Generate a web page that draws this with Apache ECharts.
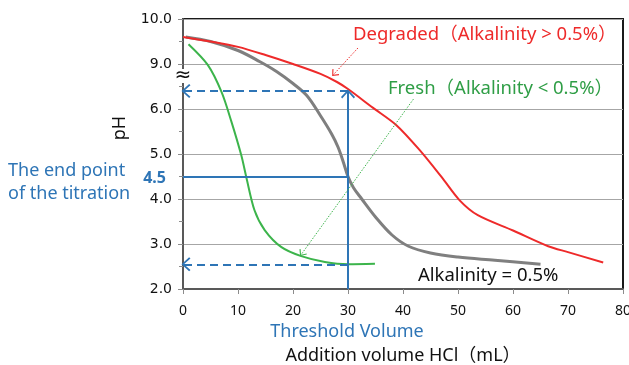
<!DOCTYPE html>
<html>
<head>
<meta charset="utf-8">
<script src="https://cdn.jsdelivr.net/npm/echarts@6/dist/echarts.min.js"></script>
<style>html,body{margin:0;padding:0;background:#fff;}#c{width:629px;height:365px;}</style>
</head>
<body>
<div id="c"></div>
<script>
// ---- data (x = HCl volume mL, y = pH) ----
const degradedX = [0, 5, 10, 15, 20, 25, 28, 30, 34.5, 38.8, 43, 47, 50.3, 53.6, 60, 66.4, 70, 76.4];
const degradedPH = [9.6, 9.5, 9.38, 9.2, 9.0, 8.34, 7.8, 7.33, 6.09, 5.64, 5.09, 4.49, 3.97, 3.64, 3.3, 2.95, 2.82, 2.59];
const neutralX = [0.5, 5, 10, 14, 17, 20, 22.5, 25, 27, 28.2, 29.2, 30, 31, 32.5, 35, 38, 41, 45, 50, 56.7, 65];
const neutralPH = [9.6, 9.5, 9.3, 9.05, 8.5, 7.7, 6.9, 5.85, 5.45, 5.15, 4.8, 4.5, 4.25, 4.0, 3.6, 3.2, 2.95, 2.8, 2.71, 2.64, 2.55];
const freshX = [1, 4.5, 7, 8.8, 10.6, 11.5, 13, 14.85, 17.9, 21.5, 25.8, 30, 34.9];
const freshPH = [9.44, 8.94, 7.14, 5.72, 4.97, 4.49, 3.75, 3.31, 2.93, 2.73, 2.6, 2.55, 2.56];
const yTickLabels = ['2.0', '3.0', '4.0', '5.0', '6.0', '9.0', '10.0'];
const xTicks = [0, 10, 20, 30, 40, 50, 60, 70, 80];
const thresholdVolume = 30;
const thresholdPH = 7.2;
const endPointPH = 4.5;
const freshEndPH = 2.55;
const degradedArrow = [[31.8, 9.355], [27.25, 8.25]];
const freshArrow = [[41.9, 6.66], [21.4, 2.75]];

// broken axis: 2..6 linear, 6..9 compressed into one unit, 9..10 linear
function pos(ph) {
  if (ph <= 6) return ph;
  if (ph <= 9) return 6 + (ph - 6) / 3;
  return 7 + (ph - 9);
}
function pts(xs, ys) { return xs.map((x, i) => [x, pos(ys[i])]); }

const RED = '#ee2a2a', GRAY = '#7f7f7f', GREEN = '#3cb44b', BLUE = '#2e75b6', TGREEN = '#2f9e46';
const FONT = '"Noto Sans", "Noto Sans CJK JP", sans-serif';
const chevron = 'path://M0,0 L12,11 L10,13 L0,3.5 L-10,13 L-12,11 Z';

const chart = echarts.init(document.getElementById('c'), null, {renderer: 'canvas'});
const option = {
  animation: false,
  backgroundColor: '#fff',
  grid: {left: 183, right: 6, top: 19, bottom: 76, containLabel: false, outerBoundsMode: 'none',
    show: true, borderColor: '#1a1a1a', borderWidth: 2, backgroundColor: 'transparent'},
  xAxis: {
    type: 'value', min: 0, max: 80, interval: 10,
    name: 'Addition volume HCl（mL）', nameLocation: 'middle', nameGap: 58,
    nameTextStyle: {color: '#111', fontSize: 18, fontFamily: FONT},
    axisLine: {show: true, lineStyle: {color: '#595959', width: 2}},
    axisTick: {show: true, length: 5, lineStyle: {color: '#8c8c8c'}},
    axisLabel: {margin: 15, fontSize: 14, fontFamily: FONT,
      color: v => (v === thresholdVolume ? BLUE : '#111'),
      formatter: v => (xTicks.indexOf(v) >= 0 ? String(v) : '')},
    splitLine: {show: false}
  },
  yAxis: {
    type: 'value', min: 2, max: 8, interval: 1,
    axisLine: {show: true, lineStyle: {color: '#595959', width: 2}},
    axisTick: {show: true, length: 5, lineStyle: {color: '#8c8c8c'}},
    minorTick: {show: true, splitNumber: 2, length: 4, lineStyle: {color: '#8c8c8c'}},
    axisLabel: {margin: 11, fontSize: 14, fontFamily: '"DejaVu Sans", sans-serif', color: '#111',
      formatter: v => yTickLabels[Math.round(v) - 2] || ''},
    splitLine: {show: true, lineStyle: {color: '#a6a6a6', width: 1}}
  },
  series: [
    {type: 'line', data: pts(degradedX, degradedPH), smooth: 0.3, showSymbol: false, lineStyle: {color: RED, width: 2}, z: 4},
    {type: 'line', data: pts(neutralX, neutralPH), smooth: 0.35, showSymbol: false, lineStyle: {color: GRAY, width: 3}, z: 3},
    {type: 'line', data: pts(freshX, freshPH), smooth: 0.3, showSymbol: false, lineStyle: {color: GREEN, width: 2}, z: 3},
    {type: 'line', data: [], z: 5,
      markLine: {
        silent: true, animation: false, label: {show: false},
        data: [
          [{coord: [0, pos(endPointPH)], symbol: 'none', lineStyle: {color: BLUE, width: 2, type: 'solid'}},
           {coord: [thresholdVolume, pos(endPointPH)], symbol: 'none'}],
          [{coord: [thresholdVolume, 2], symbol: 'none', lineStyle: {color: BLUE, width: 2, type: 'solid'}},
           {coord: [thresholdVolume, pos(thresholdPH)], symbol: chevron, symbolSize: [14, 9], symbolOffset: [0, 3]}],
          [{coord: [thresholdVolume, pos(thresholdPH)], symbol: 'none', lineStyle: {color: BLUE, width: 2, type: [8, 5]}},
           {coord: [0, pos(thresholdPH)], symbol: chevron, symbolSize: [14, 9], symbolOffset: [0, 3]}],
          [{coord: [thresholdVolume, pos(freshEndPH)], symbol: 'none', lineStyle: {color: BLUE, width: 2, type: [8, 5]}},
           {coord: [0, pos(freshEndPH)], symbol: chevron, symbolSize: [14, 9], symbolOffset: [0, 3]}],
          [{coord: [degradedArrow[0][0], pos(degradedArrow[0][1])], symbol: 'none', lineStyle: {color: RED, width: 1, type: [1.5, 1.5]}},
           {coord: [degradedArrow[1][0], pos(degradedArrow[1][1])], symbol: chevron, symbolSize: [9, 6], symbolOffset: [0, 2]}],
          [{coord: [freshArrow[0][0], pos(freshArrow[0][1])], symbol: 'none', lineStyle: {color: GREEN, width: 1, type: [1.5, 1.5]}},
           {coord: [freshArrow[1][0], pos(freshArrow[1][1])], symbol: chevron, symbolSize: [9, 6], symbolOffset: [0, 2]}]
        ]
      }}
  ],
  graphic: [
    {type: 'rect', shape: {x: 177, y: 69, width: 12, height: 14}, style: {fill: '#fff'}, z: 100},
    {type: 'text', x: 183, y: 76, style: {text: '≈', font: '20px "DejaVu Sans"', fill: '#111', align: 'center', verticalAlign: 'middle'}, z: 101},
    {type: 'text', x: 120, y: 128, rotation: Math.PI / 2, style: {text: 'pH', font: '18px ' + FONT, fill: '#111', align: 'center', verticalAlign: 'middle'}},
    {type: 'text', x: 353, y: 35, style: {text: 'Degraded（Alkalinity > 0.5%）', font: '18.5px ' + FONT, fill: RED, verticalAlign: 'middle'}},
    {type: 'text', x: 388, y: 89, style: {text: 'Fresh（Alkalinity < 0.5%）', font: '18.5px ' + FONT, fill: TGREEN, verticalAlign: 'middle'}},
    {type: 'text', x: 418, y: 276, style: {text: 'Alkalinity = 0.5%', font: '18.5px ' + FONT, fill: '#111', verticalAlign: 'middle'}},
    {type: 'text', x: 8, y: 171, style: {text: 'The end point', font: '18px ' + FONT, fill: BLUE, verticalAlign: 'middle'}},
    {type: 'text', x: 8, y: 194, style: {text: 'of the titration', font: '18px ' + FONT, fill: BLUE, verticalAlign: 'middle'}},
    {type: 'text', x: 166, y: 178, style: {text: '4.5', font: 'bold 16px ' + FONT, fill: BLUE, align: 'right', verticalAlign: 'middle'}},
    {type: 'text', x: 347, y: 332, style: {text: 'Threshold Volume', font: '18px ' + FONT, fill: BLUE, align: 'center', verticalAlign: 'middle'}}
  ]
};
chart.setOption(option);
</script>
</body>
</html>
